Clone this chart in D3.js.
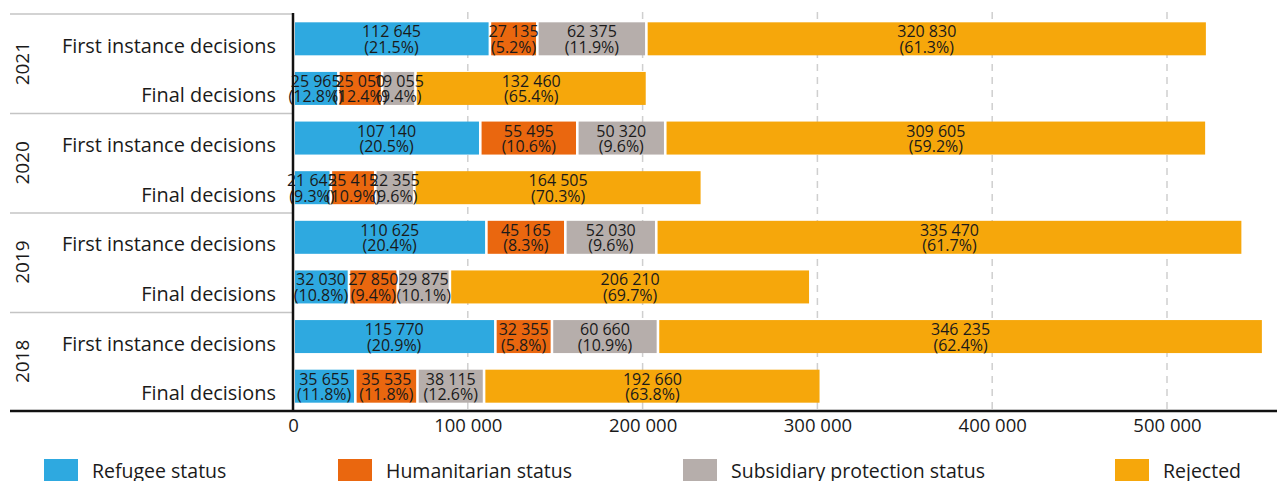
<!DOCTYPE html>
<html><head><meta charset="utf-8">
<script src="https://cdn.jsdelivr.net/npm/d3@7"></script>
<style>body{margin:0;background:#fff}svg{display:block}text{font-family:"Open Sans",sans-serif;fill:#1a1a1a}</style>
</head><body><svg id="c" width="1277" height="481"></svg>
<script>
const years = ["2021","2020","2019","2018"];
const decisionTypes = ["First instance decisions","Final decisions"];
const seriesNames = ["Refugee status","Humanitarian status","Subsidiary protection status","Rejected"];
const seriesColors = ["#2ea9e0","#ea670f","#b6aeab","#f6a70b"];
const refugee      = [112645, 25965, 107140, 21645, 110625, 32030, 115770, 35655];
const humanitarian = [27135, 25050, 55495, 25415, 45165, 27850, 32355, 35535];
const subsidiary   = [62375, 19055, 50320, 22355, 52030, 29875, 60660, 38115];
const rejected     = [320830, 132460, 309605, 164505, 335470, 206210, 346235, 192660];
const xTicks = [0, 100000, 200000, 300000, 400000, 500000];

const rows = [];
years.forEach((y,i)=>decisionTypes.forEach((d,j)=>rows.push({year:y,type:d,key:y+"|"+d})));
const seriesVals = [refugee, humanitarian, subsidiary, rejected];
rows.forEach((r,i)=>{ r.vals = seriesVals.map(s=>s[i]); r.total = d3.sum(r.vals); });

const svg = d3.select("#c");
const x = d3.scaleLinear().domain([0,500000]).range([293,1167]);
const y = d3.scaleBand().domain(rows.map(r=>r.key)).range([14,411]).paddingInner(0.335).paddingOuter(0.1675);
const fmt = v => d3.format(",")(v).replace(/,/g," ");

// gridlines
svg.append("g").selectAll("line").data(xTicks.slice(1)).join("line")
  .attr("x1",d=>x(d)).attr("x2",d=>x(d)).attr("y1",12).attr("y2",411)
  .attr("stroke","#cfcfcf").attr("stroke-width",1.5).attr("stroke-dasharray","7,6");

// group separators
const sepY = [14,113.5,213,312.5];
svg.append("g").selectAll("line").data(sepY).join("line")
  .attr("x1",10).attr("x2",293).attr("y1",d=>d).attr("y2",d=>d)
  .attr("stroke","#c4c4c4").attr("stroke-width",1.5);

// bars
const gRows = svg.append("g").selectAll("g").data(rows).join("g");
gRows.each(function(r){
  let acc = 0;
  const segs = r.vals.map((v,k)=>{ const s={x0:acc,x1:acc+v,v,k,pct:v/r.total*100}; acc+=v; return s; });
  const g = d3.select(this);
  const top = y(r.key), h = y.bandwidth();
  g.selectAll("rect").data(segs).join("rect")
    .attr("x",s=>x(s.x0)+(s.k===0?2:1.3)).attr("y",top)
    .attr("width",s=>Math.max(0,x(s.x1)-x(s.x0)-(s.k===0?3.3:2.6))).attr("height",h)
    .attr("fill",s=>seriesColors[s.k]);
  const t = g.selectAll("text").data(segs).join("text")
    .attr("text-anchor","middle").attr("font-size",16)
    .attr("x",s=>(x(s.x0)+x(s.x1))/2);
  t.append("tspan").attr("x",s=>(x(s.x0)+x(s.x1))/2).attr("y",top+15).text(s=>fmt(s.v));
  t.append("tspan").attr("x",s=>(x(s.x0)+x(s.x1))/2).attr("y",top+30.5).text(s=>"("+s.pct.toFixed(1)+"%)");
});

// category labels
svg.append("g").selectAll("text").data(rows).join("text")
  .attr("x",276).attr("y",r=>y(r.key)+y.bandwidth()/2+14)
  .attr("text-anchor","end").attr("font-size",19.9).text(r=>r.type);

// year labels
svg.append("g").selectAll("text").data(years).join("text")
  .attr("transform",(d,i)=>`translate(29,${(y(d+"|"+decisionTypes[0])+y(d+"|"+decisionTypes[1])+y.bandwidth())/2}) rotate(-90)`)
  .attr("text-anchor","middle").attr("font-size",19).text(d=>d);

// axes lines
svg.append("line").attr("x1",293).attr("x2",293).attr("y1",13).attr("y2",411).attr("stroke","#111").attr("stroke-width",2.5);
svg.append("line").attr("x1",10).attr("x2",1277).attr("y1",411).attr("y2",411).attr("stroke","#111").attr("stroke-width",2.5);

// x axis
const ax = svg.append("g").attr("transform","translate(0,411)")
  .call(d3.axisBottom(x).tickValues(xTicks).tickFormat(fmt).tickSize(0).tickPadding(8));
ax.select(".domain").remove();
ax.selectAll("text").attr("font-size",18.5).attr("font-family","'Open Sans',sans-serif").attr("fill","#1a1a1a");

// legend
const legX = [44,338,683,1115];
const lg = svg.append("g").selectAll("g").data(seriesNames).join("g").attr("transform",(d,i)=>`translate(${legX[i]},459)`);
lg.append("rect").attr("width",34).attr("height",24).attr("fill",(d,i)=>seriesColors[i]);
lg.append("text").attr("x",48).attr("y",19).attr("font-size",19.5).text(d=>d);
</script></body></html>
